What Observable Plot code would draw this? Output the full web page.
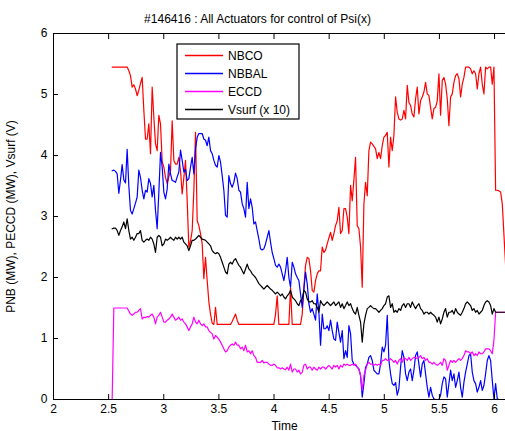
<!DOCTYPE html>
<html><head><meta charset="utf-8">
<script src="https://cdn.jsdelivr.net/npm/d3@7"></script>
<script src="https://cdn.jsdelivr.net/npm/@observablehq/plot@0.6"></script>
<style>
html,body{margin:0;padding:0;background:#fff;overflow:hidden;width:505px;height:431px}
#wrap{position:relative;width:505px;height:431px;overflow:hidden;font-family:"Liberation Sans",Arial,Helvetica,sans-serif;color:#000}
#chart{position:absolute;left:0;top:0;width:515px;height:431px}
#chart svg{max-width:none !important;display:block}
#title{position:absolute;top:12px;left:0;width:515px;text-align:center;font-size:12px;line-height:14px}
#legend{position:absolute;left:176px;top:43px;z-index:2}
</style></head>
<body><div id="wrap"><div id="chart"></div><div id="title"></div><div id="legend"></div></div>
<script>
const titleText = "#146416 : All Actuators for control of Psi(x)";
const xLabel = "Time";
const yLabel = "PNB (MW), PECCD (MW), Vsurf (V)";
const xTicks = [2, 2.5, 3, 3.5, 4, 4.5, 5, 5.5, 6];
const yTicks = [0, 1, 2, 3, 4, 5, 6];
const seriesNames = ["NBCO", "NBBAL", "ECCD", "Vsurf (x 10)"];
const seriesColors = ["#ff0000", "#0000ff", "#ff00ff", "#000000"];
// sampling clock of the signals (s)
const tStart = 2.532, tStep = 0.01512;

const NBCO = [
5.45,5.45,5.45,5.45,5.45,5.45,5.45,5.45,5.45,5.45,
5.39,5.31,5.12,5.16,5.09,4.98,5.07,5.18,5.28,4.74,
4.27,4.27,4.52,4.03,5.12,4.63,4.19,4.08,4.66,4.52,
3.90,3.81,3.64,3.54,3.65,3.75,4.57,3.92,3.86,3.86,
3.97,3.75,3.37,3.64,3.92,3.26,2.50,2.60,2.77,3.43,
4.38,2.93,2.85,2.72,2.55,1.98,2.33,1.95,1.60,1.40,
1.25,1.23,1.51,1.23,1.23,1.23,1.23,1.23,1.23,1.23,
1.23,1.23,1.28,1.34,1.40,1.30,1.23,1.23,1.23,1.23,
1.23,1.23,1.23,1.23,1.23,1.23,1.23,1.23,1.23,1.23,
1.23,1.23,1.23,1.23,1.23,1.23,1.23,1.23,1.40,1.70,
1.23,1.23,1.23,1.23,1.23,1.23,1.23,1.83,1.23,1.23,
1.23,1.23,1.23,1.23,1.40,1.84,2.20,2.33,2.31,2.11,
1.79,1.76,1.95,2.06,2.11,2.11,2.50,2.41,2.45,2.55,
2.65,2.74,2.61,2.72,2.85,2.93,3.15,2.72,2.77,3.13,
3.13,2.99,2.72,3.51,3.26,3.60,3.97,2.85,2.80,2.50,
1.84,3.20,3.56,3.34,4.08,4.22,4.19,4.15,4.11,3.95,
4.05,3.95,4.16,4.30,4.33,4.38,3.81,4.30,4.08,4.33,
4.96,4.71,4.60,4.58,4.60,4.74,4.60,5.15,4.87,4.82,
4.68,4.63,4.93,5.12,4.68,4.90,4.96,5.04,5.20,5.01,
4.98,4.79,4.60,4.77,4.79,4.90,5.34,4.66,5.23,5.28,
5.17,4.93,4.49,4.96,5.01,5.20,5.31,5.34,5.26,4.96,
5.17,5.28,5.45,5.45,5.45,5.42,5.34,5.39,5.34,5.09,
5.34,5.45,5.17,5.01,5.45,5.42,5.45,5.45,5.17,5.45,
3.43,3.43,3.42,3.40,3.21,2.70,2.20];

const NBBAL = [
3.75,3.76,3.74,3.70,3.38,3.60,3.85,3.60,3.55,4.10,
3.50,3.10,3.04,3.13,3.22,3.32,3.76,3.64,3.43,3.29,
3.43,3.40,3.62,3.54,3.32,3.51,3.10,2.80,3.40,4.05,
3.81,3.40,3.29,3.45,3.86,3.70,3.59,3.58,3.56,3.65,
3.73,4.09,3.92,3.73,3.77,3.59,3.62,3.81,3.97,3.70,
4.10,4.30,4.36,4.36,4.36,4.27,4.25,4.16,4.30,4.08,
4.03,3.92,3.84,3.81,4.00,3.89,3.67,3.43,3.02,2.99,
3.67,3.54,3.48,3.56,3.71,3.62,3.43,3.40,3.21,3.13,
2.99,3.56,3.13,3.29,3.15,2.88,2.91,2.77,2.63,2.47,
2.45,2.47,2.55,2.66,2.77,2.58,2.41,2.31,2.20,2.17,
2.22,2.17,2.06,1.95,2.11,2.33,2.00,1.84,2.25,2.17,
2.06,2.00,1.95,1.73,1.51,1.80,2.09,1.90,1.57,1.43,
1.49,1.40,1.30,1.73,1.43,0.89,1.40,1.16,1.16,1.21,
1.13,1.30,1.13,0.99,0.97,1.27,1.10,0.94,1.13,0.67,
0.80,0.69,1.21,1.08,0.64,0.58,0.56,0.53,0.50,0.39,
0.04,0.26,0.53,0.58,0.69,0.72,0.64,0.48,0.45,0.42,
0.42,0.58,0.86,0.78,0.89,1.38,0.64,0.42,0.26,0.23,
0.28,0.07,0.18,0.53,0.80,0.69,0.42,0.31,0.45,0.50,
0.31,0.48,0.72,0.78,0.58,0.37,0.58,0.64,0.42,0.20,
0.04,0.20,0.07,0.01,0.00,0.00,0.00,0.07,0.26,0.37,
0.34,0.04,0.26,0.48,0.31,0.42,0.20,0.31,0.45,0.20,
0.04,0.28,0.45,0.58,0.72,0.75,0.45,0.31,0.26,0.12,
0.20,0.31,0.15,0.23,0.42,0.64,0.72,0.64,0.31,0.01,
0.26,0.01,0.00,0.00,0.00,0.00,0.00];

const ECCD = [
0.00,1.50,1.50,1.50,1.50,1.50,1.50,1.50,1.50,1.50,
1.45,1.40,1.38,1.40,1.43,1.43,1.46,1.49,1.32,1.35,
1.34,1.36,1.35,1.38,1.40,1.35,1.24,1.35,1.38,1.43,
1.35,1.27,1.27,1.30,1.32,1.35,1.40,1.35,1.30,1.32,
1.35,1.30,1.32,1.27,1.24,1.19,1.13,1.19,1.24,1.35,
1.27,1.24,1.30,1.24,1.21,1.24,1.19,1.19,1.13,1.10,
1.08,0.99,1.05,1.02,0.99,0.94,0.89,0.83,0.78,0.80,
0.86,0.89,0.91,0.89,0.94,0.89,0.89,0.83,0.86,0.80,
0.89,0.78,0.80,0.75,0.80,0.72,0.69,0.61,0.61,0.61,
0.64,0.60,0.61,0.61,0.58,0.56,0.56,0.58,0.56,0.52,
0.52,0.50,0.52,0.50,0.49,0.53,0.48,0.58,0.45,0.50,
0.50,0.45,0.48,0.42,0.45,0.56,0.58,0.50,0.53,0.53,
0.48,0.53,0.50,0.48,0.53,0.50,0.53,0.53,0.50,0.53,
0.56,0.53,0.50,0.56,0.53,0.56,0.50,0.56,0.53,0.58,
0.56,0.58,0.56,0.56,0.58,0.56,0.58,0.53,0.50,0.39,
0.15,0.39,0.48,0.58,0.61,0.58,0.58,0.56,0.58,0.56,
0.58,0.56,0.64,0.64,0.67,0.64,0.64,0.67,0.64,0.61,
0.64,0.58,0.64,0.67,0.61,0.69,0.67,0.64,0.69,0.64,
0.67,0.69,0.69,0.67,0.69,0.72,0.67,0.69,0.64,0.67,
0.61,0.61,0.58,0.61,0.58,0.56,0.58,0.61,0.56,0.67,
0.64,0.48,0.56,0.64,0.61,0.64,0.61,0.64,0.67,0.64,
0.67,0.72,0.80,0.78,0.78,0.75,0.78,0.72,0.75,0.72,
0.78,0.75,0.75,0.78,0.83,0.83,0.83,0.80,0.75,0.97,
1.43,1.43,1.43,1.43,1.43,1.43,1.43];

const Vsurf = [
2.80,2.81,2.81,2.77,2.69,2.77,2.83,2.91,2.80,2.96,
2.77,2.63,2.66,2.61,2.66,2.72,2.72,2.77,2.61,2.58,
2.61,2.63,2.61,2.66,2.63,2.55,2.41,2.66,2.69,2.66,
2.52,2.55,2.63,2.61,2.63,2.66,2.63,2.61,2.66,2.63,
2.66,2.63,2.66,2.58,2.55,2.52,2.44,2.52,2.61,2.61,
2.63,2.66,2.69,2.66,2.63,2.62,2.61,2.58,2.55,2.52,
2.44,2.41,2.39,2.41,2.39,2.33,2.25,2.17,2.09,2.06,
2.22,2.25,2.22,2.28,2.31,2.25,2.20,2.17,2.11,2.06,
2.14,2.22,2.14,2.11,2.06,2.03,2.00,1.95,1.90,1.87,
1.84,1.81,1.84,1.87,1.84,1.81,1.79,1.76,1.73,1.76,
1.73,1.70,1.73,1.68,1.65,1.70,1.73,1.79,1.68,1.65,
1.62,1.57,1.54,1.62,1.65,1.79,1.76,1.65,1.60,1.60,
1.62,1.57,1.57,1.51,1.43,1.62,1.57,1.54,1.57,1.60,
1.57,1.54,1.57,1.60,1.54,1.57,1.60,1.51,1.57,1.49,
1.54,1.60,1.54,1.57,1.49,1.43,1.40,1.51,1.38,1.27,
0.94,1.24,1.38,1.49,1.51,1.54,1.51,1.49,1.49,1.46,
1.43,1.46,1.49,1.54,1.57,1.68,1.70,1.51,1.57,1.43,
1.46,1.43,1.49,1.46,1.54,1.57,1.51,1.57,1.57,1.51,
1.60,1.54,1.49,1.54,1.57,1.49,1.46,1.40,1.43,1.43,
1.40,1.43,1.40,1.38,1.35,1.27,1.35,1.24,1.32,1.43,
1.49,1.35,1.43,1.43,1.46,1.40,1.49,1.43,1.40,1.38,
1.43,1.49,1.57,1.60,1.57,1.54,1.46,1.49,1.43,1.46,
1.40,1.43,1.46,1.54,1.60,1.62,1.60,1.54,1.40,1.49,
1.43,1.43,1.43,1.43,1.43,1.43,1.43];

const seriesValues = [NBCO, NBBAL, ECCD, Vsurf];
const timeFor = (arr) => arr.map((_, i) => +(tStart + i * tStep).toFixed(4));

const font = "'Liberation Sans', Arial, Helvetica, sans-serif";
const chart = Plot.plot({
  width: 515,
  height: 431,
  marginLeft: 53,
  marginRight: 0,
  marginTop: 33,
  marginBottom: 32,
  style: {fontFamily: font, fontSize: "12px", color: "#000", background: "#fff", overflow: "visible", maxWidth: "none"},
  x: {domain: [2, 6.19]},
  y: {domain: [0, 6]},
  marks: [
    ...seriesValues.map((vals, s) => Plot.line(vals, {
      x: timeFor(vals), y: vals, stroke: seriesColors[s], strokeWidth: 1.2, clip: true
    })),
    Plot.frame({stroke: "#000", strokeWidth: 1}),
    Plot.axisX({ticks: xTicks, tickSize: -5, tickPadding: 10, tickFormat: d => String(d),
      fontSize: 12, label: xLabel, labelAnchor: "center", labelOffset: 30, labelArrow: "none"}),
    Plot.axisX({anchor: "top", ticks: xTicks, tickSize: -5, tickFormat: () => "", label: null}),
    Plot.axisY({ticks: yTicks, tickSize: -5, tickPadding: 11, tickFormat: d => String(d),
      fontSize: 12, label: yLabel, labelAnchor: "center", labelOffset: 47, labelArrow: "none"})
  ]
});
document.getElementById("chart").appendChild(chart);
document.getElementById("title").textContent = titleText;

// legend box (MATLAB style)
const lg = d3.select("#legend").append("svg")
  .attr("width", 125).attr("height", 78)
  .style("display", "block")
  .style("font-family", font).style("font-size", "12px");
lg.append("rect").attr("x", 1).attr("y", 1).attr("width", 122).attr("height", 75)
  .attr("fill", "#ffffff").attr("stroke", "#000000").attr("stroke-width", 1.2);
const rows = lg.selectAll("g.entry").data(seriesNames).join("g")
  .attr("class", "entry")
  .attr("transform", (d, i) => `translate(0,${12 + 18 * i})`);
rows.append("path")
  .attr("d", "M9,0.5H47")
  .style("stroke", (d, i) => seriesColors[i])
  .style("stroke-width", "1.3px")
  .style("fill", "none");
rows.append("text")
  .attr("x", 52).attr("y", 0.5).attr("dy", "0.35em")
  .attr("fill", "#000")
  .text(d => d);
</script>
</body></html>
